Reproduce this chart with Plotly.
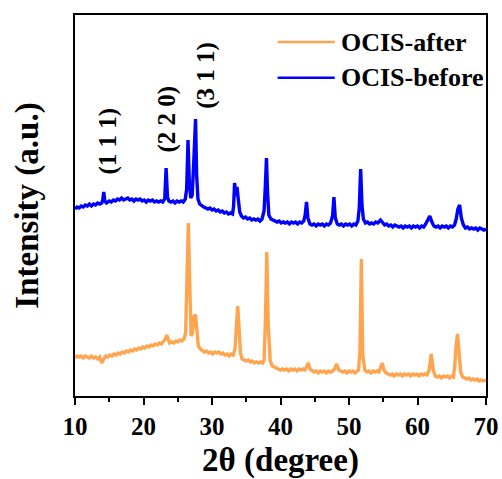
import plotly.graph_objects as go

# ---- data (2θ in degrees, intensity in arbitrary units) ----
before_x = [10.0, 10.3, 10.6, 10.9, 11.2, 11.5, 11.8, 12.1, 12.4, 12.7, 13.0, 13.3, 13.6, 13.9, 14.05, 14.2, 14.35, 14.6,
            15.0, 15.3, 15.6, 15.9, 16.2, 16.5, 16.8, 17.1, 17.4, 17.7, 18.0, 18.3, 18.6, 18.9, 19.2, 19.5, 19.8,
            20.1, 20.4, 20.7, 21.0, 21.3, 21.6, 21.9, 22.2, 22.5, 22.8, 23.1, 23.3, 23.5, 23.7, 24.0, 24.3, 24.6,
            24.9, 25.2, 25.5, 25.8, 26.1, 26.3, 26.5, 26.7, 26.9, 27.1, 27.3, 27.45, 27.6, 27.75, 27.95, 28.2, 28.5,
            28.8, 29.1, 29.4, 29.7, 30.0, 30.3, 30.6, 30.9, 31.2, 31.5, 31.8, 32.1, 32.4, 32.7, 33.0, 33.15, 33.3,
            33.5, 33.65, 33.85, 34.05, 34.3, 34.6, 34.9, 35.2, 35.5, 35.8, 36.1, 36.4, 36.7, 37.0, 37.3, 37.6, 37.8,
            37.95, 38.1, 38.3, 38.6, 38.9, 39.2, 39.5, 39.8, 40.1, 40.4, 40.7, 41.0, 41.3, 41.6, 41.9, 42.2, 42.5,
            42.8, 43.1, 43.4, 43.6, 43.8, 44.0, 44.3, 44.6, 44.9, 45.2, 45.5, 45.8, 46.1, 46.4, 46.7, 47.0, 47.3,
            47.6, 47.8, 48.0, 48.3, 48.6, 48.9, 49.2, 49.5, 49.8, 50.1, 50.4, 50.7, 51.0, 51.3, 51.5, 51.7, 51.9,
            52.1, 52.4, 52.7, 53.0, 53.3, 53.6, 53.9, 54.2, 54.6, 54.9, 55.2, 55.5, 55.8, 56.1, 56.4, 56.7, 57.0,
            57.3, 57.6, 57.9, 58.2, 58.5, 58.8, 59.1, 59.4, 59.7, 60.0, 60.3, 60.6, 60.9, 61.2, 61.5, 61.8, 62.1,
            62.4, 62.7, 63.0, 63.3, 63.6, 63.9, 64.2, 64.5, 64.8, 65.1, 65.4, 65.65, 65.9, 66.15, 66.4, 66.7, 67.0,
            67.3, 67.6, 67.9, 68.2, 68.5, 68.8, 69.1, 69.4, 69.7, 70.0]
before_y = [187, 189, 188, 190, 189, 191, 190, 192, 190, 192, 191, 193, 192, 193, 196, 204, 195, 193,
            195, 194, 196, 195, 197, 196, 198, 196, 197, 198, 196, 197, 195, 197, 196, 197, 195,
            196, 194, 196, 195, 196, 194, 195, 194, 195, 194, 197, 228, 199, 195, 194, 195, 193,
            195, 194, 195, 194, 197, 207, 256, 212, 198, 201, 228, 262, 277, 222, 197, 192, 190,
            189, 188, 187, 188, 186, 187, 185, 186, 184, 185, 183, 184, 182, 183, 182, 190, 213,
            200, 209, 196, 184, 180, 178, 179, 177, 178, 176, 177, 176, 177, 175, 177, 185, 212,
            238, 205, 181, 177, 176, 175, 174, 175, 173, 174, 173, 174, 172, 174, 173, 174, 172,
            174, 173, 175, 181, 194, 178, 172, 171, 172, 170, 172, 171, 172, 170, 172, 171, 173,
            180, 199, 178, 172, 171, 172, 170, 172, 171, 172, 170, 172, 171, 175, 188, 227, 190,
            177, 173, 174, 172, 173, 172, 174, 173, 176, 174, 171, 172, 170, 171, 169, 171, 170,
            169, 170, 168, 170, 169, 170, 168, 170, 169, 170, 168, 170, 169, 172, 176, 180, 174,
            170, 169, 170, 168, 170, 169, 170, 168, 170, 169, 171, 177, 187, 191, 178, 171, 168,
            169, 167, 168, 167, 168, 166, 168, 167, 166, 167]

after_x = [10.0, 10.3, 10.6, 10.9, 11.2, 11.5, 11.8, 12.1, 12.4, 12.7, 13.0, 13.3, 13.6, 13.9, 14.2, 14.5,
           14.8, 15.1, 15.4, 15.7, 16.0, 16.3, 16.6, 16.9, 17.2, 17.5, 17.8, 18.1, 18.4, 18.7, 19.0, 19.3,
           19.6, 19.9, 20.2, 20.5, 20.8, 21.1, 21.4, 21.7, 22.0, 22.3, 22.6, 22.9, 23.2, 23.4, 23.6, 23.8,
           24.1, 24.4, 24.7, 25.0, 25.3, 25.6, 25.9, 26.15, 26.35, 26.55, 26.75, 26.95, 27.15, 27.4, 27.6,
           27.8, 28.0, 28.3, 28.6, 28.9, 29.2, 29.5, 29.8, 30.1, 30.4, 30.7, 31.0, 31.3, 31.6, 31.9, 32.2,
           32.5, 32.8, 33.1, 33.35, 33.55, 33.75, 33.95, 34.15, 34.4, 34.7, 35.0, 35.3, 35.6, 35.9, 36.2,
           36.5, 36.8, 37.1, 37.4, 37.6, 37.8, 38.0, 38.2, 38.5, 38.8, 39.1, 39.4, 39.7, 40.0, 40.3, 40.6,
           40.9, 41.2, 41.5, 41.8, 42.1, 42.4, 42.7, 43.0, 43.3, 43.55, 43.8, 44.05, 44.3, 44.6, 44.9, 45.2,
           45.5, 45.8, 46.1, 46.4, 46.7, 47.0, 47.3, 47.6, 47.9, 48.2, 48.5, 48.8, 49.1, 49.4, 49.7, 50.0,
           50.3, 50.6, 50.9, 51.2, 51.4, 51.6, 51.8, 52.0, 52.3, 52.6, 52.9, 53.2, 53.5, 53.8, 54.1, 54.35,
           54.6, 54.85, 55.1, 55.4, 55.7, 56.0, 56.3, 56.6, 56.9, 57.2, 57.5, 57.8, 58.1, 58.4, 58.7, 59.0,
           59.3, 59.6, 59.9, 60.2, 60.5, 60.8, 61.1, 61.4, 61.7, 62.0, 62.3, 62.6, 62.9, 63.2, 63.5, 63.8,
           64.1, 64.4, 64.7, 65.0, 65.25, 65.45, 65.65, 65.85, 66.05, 66.3, 66.6, 66.9, 67.2, 67.5, 67.8,
           68.1, 68.4, 68.7, 69.0, 69.3, 69.6, 70.0]
after_y = [38, 40, 39, 40, 38, 40, 39, 38, 40, 38, 39, 37, 39, 33, 37, 40,
           39, 41, 40, 42, 41, 43, 42, 44, 43, 45, 44, 46, 45, 47, 46, 48,
           47, 49, 48, 50, 49, 51, 50, 52, 51, 53, 52, 54, 57, 61, 56, 53,
           54, 53, 55, 54, 56, 55, 57, 63, 120, 173, 112, 60, 63, 80, 81,
           63, 50, 47, 45, 44, 45, 43, 44, 42, 44, 43, 44, 42, 43, 41, 42,
           40, 42, 41, 47, 72, 90, 68, 43, 37, 36, 35, 36, 34, 35, 33, 34,
           33, 34, 33, 36, 75, 144, 72, 35, 30, 29, 28, 27, 26, 27, 26, 27,
           25, 27, 26, 27, 25, 27, 26, 27, 26, 29, 33, 27, 25, 24, 25, 23,
           25, 24, 25, 23, 25, 24, 25, 27, 32, 26, 25, 24, 25, 23, 25, 24,
           25, 23, 25, 26, 45, 137, 42, 26, 24, 25, 23, 25, 24, 25, 24, 28,
           33, 26, 23, 22, 21, 22, 20, 22, 21, 22, 20, 22, 21, 22, 20, 22,
           21, 22, 20, 22, 21, 22, 21, 26, 42, 26, 20, 19, 20, 18, 20, 19,
           20, 18, 20, 19, 31, 52, 62, 45, 24, 19, 18, 17, 18, 16, 17,
           16, 17, 15, 16, 15, 16, 14]

series_names = ["OCIS-after", "OCIS-before"]
series_colors = ["#FFA54F", "#0000FF"]

peak_labels = ["(1 1 1)", "(2 2 0)", "(3 1 1)"]
peak_label_x = [14.75, 23.5, 29.1]
peak_label_y = [255, 277, 321]

x_ticks = [10, 20, 30, 40, 50, 60, 70]

SERIF = "Liberation Serif"

fig = go.Figure()
fig.add_trace(go.Scatter(x=after_x, y=after_y, mode="lines", name=series_names[0],
                         line=dict(color=series_colors[0], width=3.4), showlegend=False))
fig.add_trace(go.Scatter(x=before_x, y=before_y, mode="lines", name=series_names[1],
                         line=dict(color=series_colors[1], width=3.4), showlegend=False))

# peak index labels
for t, xx, yy in zip(peak_labels, peak_label_x, peak_label_y):
    fig.add_annotation(x=xx, y=yy, xref="x", yref="y", text=t, showarrow=False, textangle=-90,
                       font=dict(family=SERIF, size=25, color="black", weight="bold"))

# legend (drawn manually to match long legend lines)
leg_y = [0.929, 0.835]
for name, col, ly in zip(series_names, series_colors, leg_y):
    fig.add_shape(type="line", xref="paper", yref="paper", x0=0.493, x1=0.632, y0=ly, y1=ly,
                  line=dict(color=col, width=2.5))
    fig.add_annotation(x=0.643, y=ly, xref="paper", yref="paper", text=name, showarrow=False,
                       xanchor="left", yanchor="middle",
                       font=dict(family=SERIF, size=26, color="black", weight="bold"))

fig.update_layout(
    width=502, height=479,
    margin=dict(l=75, r=16, t=15, b=83, autoexpand=False),
    paper_bgcolor="white", plot_bgcolor="white",
    showlegend=False,
)
fig.update_xaxes(
    range=[10, 70], tickvals=x_ticks, ticktext=[str(v) for v in x_ticks],
    showline=True, mirror=True, linecolor="black", linewidth=2,
    ticks="outside", ticklen=7, tickwidth=2, tickcolor="black",
    minor=dict(dtick=5, tick0=10, ticks="outside", ticklen=4, tickwidth=2, tickcolor="black"),
    showgrid=False, zeroline=False, automargin=False,
    tickfont=dict(family=SERIF, size=25, color="black", weight="bold"),
    title=dict(text="2θ (degree)", font=dict(family=SERIF, size=33, color="black", weight="bold"),
               standoff=10),
)
fig.update_yaxes(
    range=[0, 381], showticklabels=False, ticks="",
    showline=True, mirror=True, linecolor="black", linewidth=2,
    showgrid=False, zeroline=False, automargin=False,
    title=dict(text="Intensity (a.u.)", font=dict(family=SERIF, size=33, color="black", weight="bold"),
               standoff=24),
)

fig.write_html("out.html")
